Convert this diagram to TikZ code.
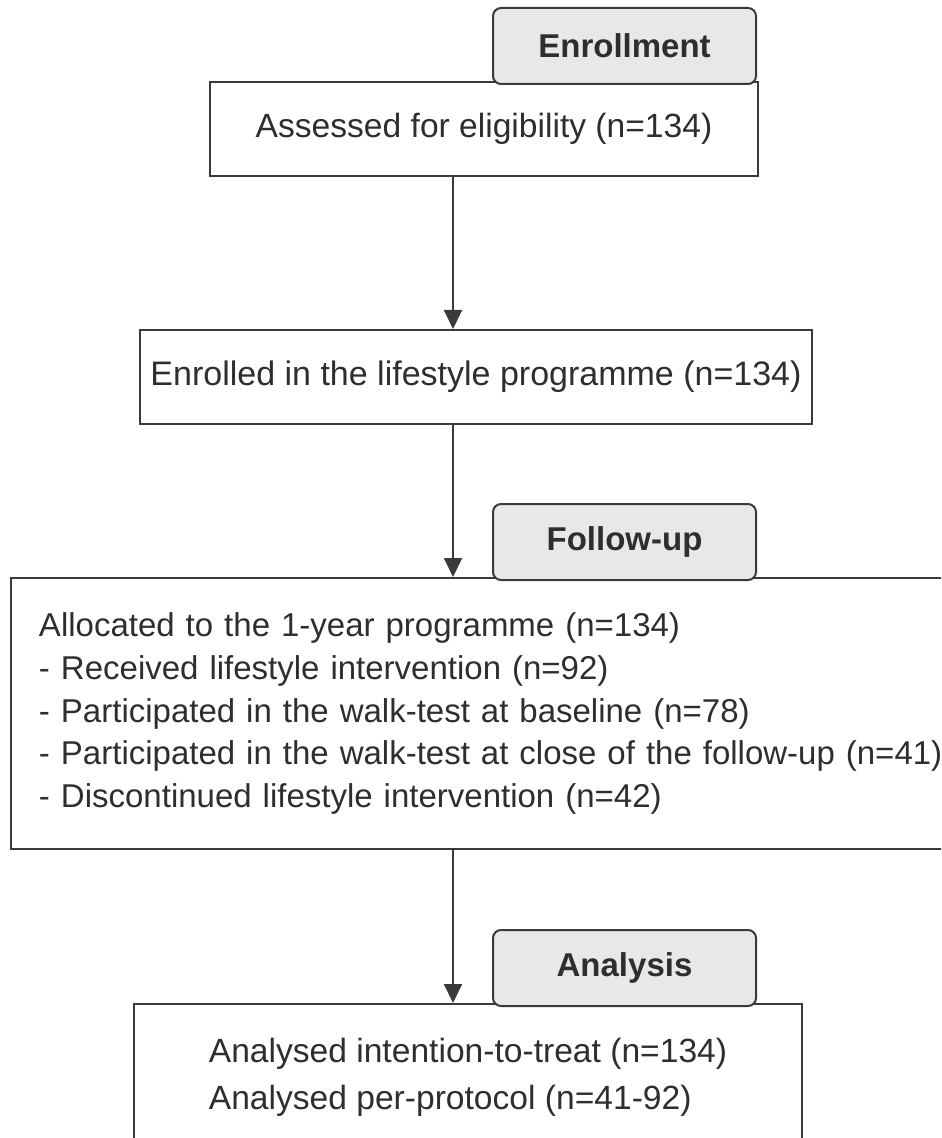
\documentclass[tikz,border=0pt]{standalone}
\usepackage{fontspec}
\setmainfont{Liberation Sans}
\usepackage{tikz}
\usetikzlibrary{positioning,arrows.meta}
\definecolor{linegray}{HTML}{3A3A3A}
\definecolor{tabgray}{HTML}{E8E8E8}
\definecolor{textgray}{HTML}{2E2E2E}
\tikzset{every picture/.style={line width=1pt}}

\begin{document}
\begin{tikzpicture}[>={Triangle[width=9pt,length=9.5pt]},
    box/.style={draw=linegray, rectangle, text=textgray, inner sep=0pt, font=\fontsize{16.8}{22.5}\selectfont},
    tab/.style={draw=linegray, rectangle, rounded corners=4pt, fill=tabgray, text=textgray, minimum width=131.5pt, minimum height=38pt, anchor=south west, font=\fontsize{16.5}{20}\selectfont\bfseries}]
    \useasboundingbox (0,0) rectangle (470.5pt,-569pt);
    \clip (0,0) rectangle (470.5pt,-569pt);
    \coordinate (axis) at (226.5pt,0);
    \coordinate (tabx) at (246pt,0);

    % Boxes
    \node[box, minimum width=274pt, minimum height=47pt] (assessed) at (242pt,-64.5pt) {Assessed for eligibility (n=134)};
    \node[box, minimum width=336pt, minimum height=47pt, font=\fontsize{17}{22.5}\selectfont] (enrolled) at (238pt,-188.5pt) {Enrolled in the lifestyle programme (n=134)};
    \node[box, anchor=north west, text width=470pt, inner xsep=14pt, minimum height=135.5pt, align=left, font=\fontsize{16.5}{21.3}\selectfont] (allocated) at (5pt,-288.5pt) {Allocated to the 1-year programme (n=134)\\- Received lifestyle intervention (n=92)\\- Participated in the walk-test at baseline (n=78)\\- Participated in the walk-test at close of the follow-up (n=41)\\- Discontinued lifestyle intervention (n=42)};
    \node[box, anchor=north west, minimum width=334pt, minimum height=73pt, align=left, font=\fontsize{16.8}{23.5}\selectfont] (analysed) at (66.5pt,-501.5pt) {Analysed intention-to-treat (n=134)\\Analysed per-protocol (n=41-92)};

    % Stage tabs
    \node[tab] (enrolltab) at ([yshift=-2pt]assessed.north -| tabx) {Enrollment};
    \node[tab] (followtab) at ([yshift=-2pt]allocated.north -| tabx) {Follow-up};
    \node[tab] (analysistab) at ([yshift=-2pt]analysed.north -| tabx) {Analysis};

    % Connections
    \draw[->, linegray] (assessed.south -| axis) -- (enrolled.north -| axis);
    \draw[->, linegray] (enrolled.south -| axis) -- (allocated.north -| axis);
    \draw[->, linegray] (allocated.south -| axis) -- (analysed.north -| axis);
\end{tikzpicture}
\end{document}
